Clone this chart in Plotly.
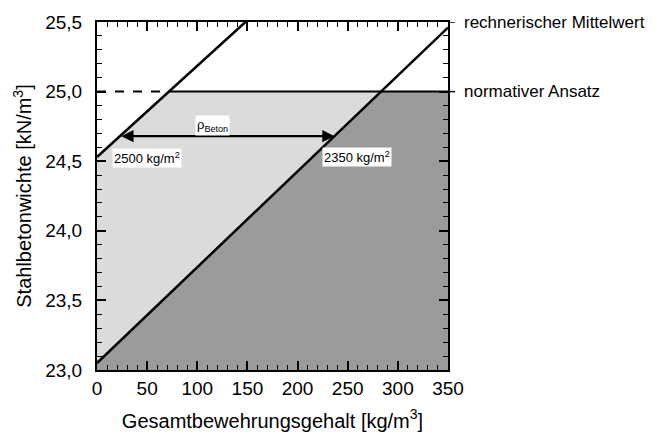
import numpy as np
import plotly.graph_objects as go

# Reinforcement content [kg/m^3] vs. unit weight of reinforced concrete [kN/m^3]
linie_2500_x = [0, 148]
linie_2500_y = [24.53, 25.5]
linie_2350_x = [0, 350]
linie_2350_y = [23.05, 25.46]
normativ = 25.0
pfeil_y = 24.68

x_bereich = [0, 350]
y_bereich = [23.0, 25.5]
x_ticks = [0, 50, 100, 150, 200, 250, 300, 350]
y_ticks = [23.0, 23.5, 24.0, 24.5, 25.0, 25.5]

label_2500 = "2500 kg/m<sup>2</sup>"
label_2350 = "2350 kg/m<sup>2</sup>"
label_rho = "ρ<sub>Beton</sub>"
label_mittel = "rechnerischer Mittelwert"
label_norm = "normativer Ansatz"


def x_bei(yv, xs, ys):
    return float(np.interp(yv, ys, xs))


x1_n = x_bei(normativ, linie_2500_x, linie_2500_y)
x2_n = x_bei(normativ, linie_2350_x, linie_2350_y)
x1_p = x_bei(pfeil_y, linie_2500_x, linie_2500_y)
x2_p = x_bei(pfeil_y, linie_2350_x, linie_2350_y)

FONT = "Arial, Liberation Sans, sans-serif"
fig = go.Figure()

# dark area below the 2350 line
fig.add_trace(go.Scatter(
    x=[x_bereich[0], linie_2350_x[0], x2_n, x_bereich[1], x_bereich[1]],
    y=[y_bereich[0], linie_2350_y[0], normativ, normativ, y_bereich[0]],
    fill="toself", fillcolor="#9b9b9b", line=dict(width=0), mode="lines",
    hoverinfo="skip"))
# light area between the two lines
fig.add_trace(go.Scatter(
    x=[linie_2350_x[0], linie_2500_x[0], x1_n, x2_n, linie_2350_x[0]],
    y=[linie_2350_y[0], linie_2500_y[0], normativ, normativ, linie_2350_y[0]],
    fill="toself", fillcolor="#dbdbdb", line=dict(width=0), mode="lines",
    hoverinfo="skip"))
# normative level
fig.add_trace(go.Scatter(x=[x_bereich[0], x1_n], y=[normativ, normativ], mode="lines",
                         line=dict(color="black", width=2, dash="dash")))
fig.add_trace(go.Scatter(x=[x1_n, x_bereich[1]], y=[normativ, normativ], mode="lines",
                         line=dict(color="black", width=2)))
# density lines
fig.add_trace(go.Scatter(x=linie_2500_x, y=linie_2500_y, mode="lines",
                         line=dict(color="black", width=2.5)))
fig.add_trace(go.Scatter(x=linie_2350_x, y=linie_2350_y, mode="lines",
                         line=dict(color="black", width=2.5)))

# double arrow
fig.add_annotation(x=x2_p, y=pfeil_y, ax=x1_p, ay=pfeil_y, axref="x", ayref="y",
                   xref="x", yref="y", text="", showarrow=True, arrowhead=2,
                   arrowside="end+start", arrowsize=1.1, arrowwidth=2.2,
                   arrowcolor="black")

lab_font = dict(family=FONT, size=13, color="black")
fig.add_annotation(x=(x1_p + x2_p) / 2 - 15, y=pfeil_y + 0.075, text=label_rho,
                   showarrow=False, bgcolor="white", font=lab_font, borderpad=1)
fig.add_annotation(x=x1_p - 8, y=pfeil_y - 0.16, text=label_2500, xanchor="left",
                   showarrow=False, bgcolor="white", font=lab_font, borderpad=1)
fig.add_annotation(x=x2_p - 12, y=pfeil_y - 0.15, text=label_2350, xanchor="left",
                   showarrow=False, bgcolor="white", font=lab_font, borderpad=1)

side_font = dict(family=FONT, size=17, color="black")
for yv, txt in [(y_bereich[1], label_mittel), (normativ, label_norm)]:
    fig.add_annotation(x=1, xref="paper", y=yv, yref="y", text=txt, xanchor="left",
                       xshift=14, showarrow=False, font=side_font)
    fig.add_shape(type="line", xref="paper", yref="y", x0=1, x1=1.02, y0=yv, y1=yv,
                  line=dict(color="black", width=1.5))

axis_common = dict(showline=True, linecolor="black", linewidth=2, mirror="allticks",
                   ticks="inside", ticklen=9, tickwidth=1.5, tickcolor="black",
                   showgrid=False, zeroline=False,
                   tickfont=dict(family=FONT, size=19, color="black"))

fig.update_xaxes(range=x_bereich, tickvals=x_ticks, **axis_common,
                 minor=dict(ticks="inside", ticklen=5, tickwidth=1.2, dtick=10,
                            tickcolor="black", showgrid=False),
                 title=dict(text="Gesamtbewehrungsgehalt [kg/m<sup>3</sup>]",
                            font=dict(family=FONT, size=20, color="black"), standoff=16))
fig.update_yaxes(range=y_bereich, tickvals=y_ticks, tickformat=".1f", **axis_common,
                 minor=dict(ticks="inside", ticklen=5, tickwidth=1.2, dtick=0.1,
                            tickcolor="black", showgrid=False),
                 ticklabelstandoff=9,
                 title=dict(text="Stahlbetonwichte [kN/m<sup>3</sup>]",
                            font=dict(family=FONT, size=20, color="black"), standoff=8))

fig.update_layout(width=656, height=441, showlegend=False, separators=",.",
                  plot_bgcolor="white", paper_bgcolor="white",
                  margin=dict(l=97, r=208, t=20, b=69))

fig.write_html("out.html")
